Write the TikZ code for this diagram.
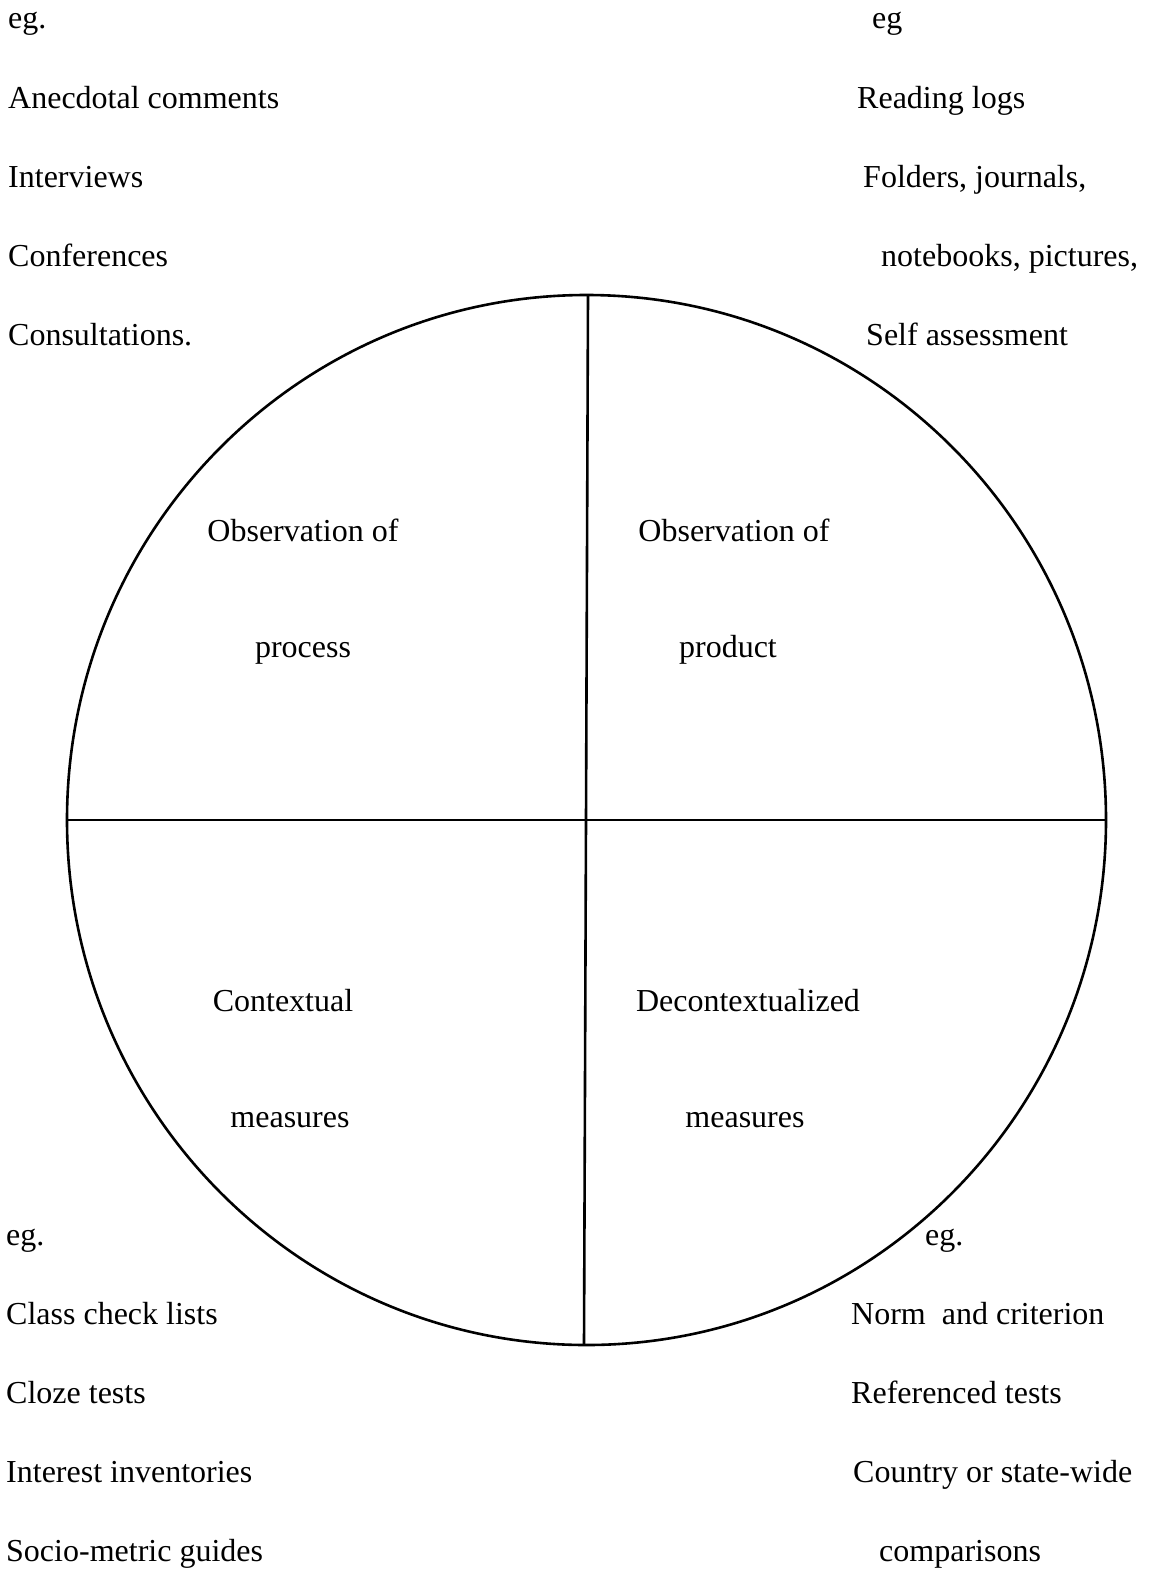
\documentclass[tikz,border=0pt]{standalone}
\usepackage{fontspec}
\setmainfont{Liberation Serif}
\usepackage{tikz}
\usetikzlibrary{positioning, calc}

\begin{document}
\begin{tikzpicture}[
  x=1pt, y=-1pt,
  every node/.style={font=\fontsize{32}{36}\selectfont, inner sep=0pt},
  example/.style={anchor=base west},
  quadlabel/.style={anchor=base},
  divider/.style={line width=2.6pt}
]
\useasboundingbox (0,0) rectangle (1156,1569);

% Circle and its four quarters
\coordinate (centre) at (586,820);
\coordinate (top) at (588,295);
\coordinate (bottom) at (584,1345);
\coordinate (left) at (67,820);
\coordinate (right) at (1106,820);
\draw[divider] (586.5,820) ellipse [x radius=519.5, y radius=525];
\draw[divider] (top) -- (bottom);
\draw[divider] (left) -- (right);

% Quarter labels
\node[quadlabel] (procA) at (303,541) {Observation of};
\node[quadlabel] (procB) at (303,657) {process};
\node[quadlabel] (prodA) at (734,541) {Observation of};
\node[quadlabel] (prodB) at (728,657) {product};
\node[quadlabel] (ctxA) at (283,1011) {Contextual};
\node[quadlabel] (ctxB) at (290,1127) {measures};
\node[quadlabel] (dctxA) at (748,1011) {Decontextualized};
\node[quadlabel] (dctxB) at (745,1127) {measures};

% Examples, top left
\node[example] (egTL) at (8,28) {eg.};
\node[example] (anecdotal) at (8,108) {Anecdotal comments};
\node[example] (interviews) at (8,187) {Interviews};
\node[example] (conferences) at (8,266) {Conferences};
\node[example] (consultations) at (8,345) {Consultations.};

% Examples, top right
\node[example] (egTR) at (872,28) {eg};
\node[example] (logs) at (857,108) {Reading logs};
\node[example] (folders) at (863,187) {Folders, journals,};
\node[example] (notebooks) at (881,266) {notebooks, pictures,};
\node[example] (selfassess) at (866,345) {Self assessment};

% Examples, bottom left
\node[example] (egBL) at (6,1245) {eg.};
\node[example] (checklists) at (6,1324) {Class check lists};
\node[example] (cloze) at (6,1403) {Cloze tests};
\node[example] (interest) at (6,1482) {Interest inventories};
\node[example] (sociometric) at (6,1561) {Socio-metric guides};

% Examples, bottom right
\node[example] (egBR) at (925,1245) {eg.};
\node[example] (norm) at (851,1324) {Norm\ \ and criterion};
\node[example] (referenced) at (851,1403) {Referenced tests};
\node[example] (country) at (853,1482) {Country or state-wide};
\node[example] (comparisons) at (879,1561) {comparisons};

\end{tikzpicture}
\end{document}
